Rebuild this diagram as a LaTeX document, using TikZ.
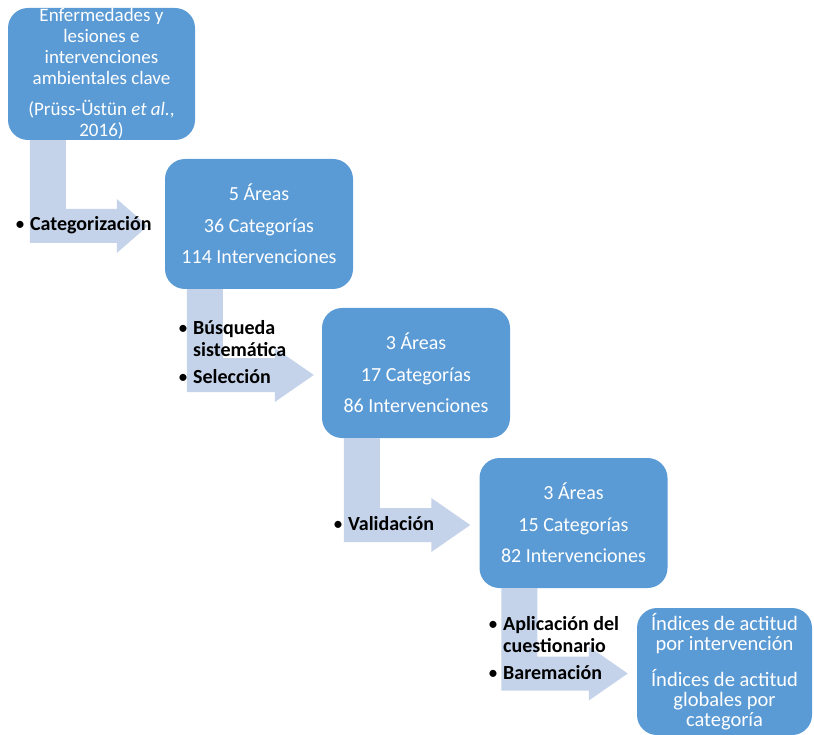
\documentclass[tikz,border=0pt]{standalone}
\usepackage{fontspec}
\setmainfont{Carlito}
\usetikzlibrary{calc}
\definecolor{boxblue}{HTML}{5B9BD5}
\definecolor{arrowblue}{HTML}{C5D3EA}
\tikzset{
  stage/.style={fill=boxblue, rounded corners=20pt, text=white, align=center,
    inner sep=0pt, minimum width=188pt, minimum height=130pt,
    font=\fontsize{20}{31.5}\selectfont},
  bullets/.style={anchor=west, align=left, inner sep=0pt,
    font=\fontsize{20}{22}\selectfont\bfseries},
  flow/.style={fill=arrowblue}
}
\newcommand{\pt}{\textmd{\textbullet}\hspace{5pt}}
% bent block arrow: source, target, gap before target, head length
\newcommand{\flowarrow}[4]{%
  \fill[flow] let \p1=(#1.south west), \p2=(#2.west) in
    (\x1+22pt,\y1) -- (\x1+58pt,\y1) -- (\x1+58pt,\y2+15pt)
    -- (\x2-#3pt-#4pt,\y2+15pt) -- (\x2-#3pt-#4pt,\y2+25pt) -- (\x2-#3pt,\y2-2pt)
    -- (\x2-#3pt-#4pt,\y2-29pt) -- (\x2-#3pt-#4pt,\y2-19pt)
    -- (\x1+22pt,\y2-19pt) -- cycle;}
\begin{document}
\begin{tikzpicture}[x=1pt,y=-1pt]
  \useasboundingbox (0,0) rectangle (814,735);
  \node[stage, minimum width=187pt, minimum height=132pt,
    font=\fontsize{19}{21}\selectfont] (0) at (101.5,74)
    {Enfermedades y\\lesiones e\\intervenciones\\ambientales clave\\[10pt](Prüss-Üstün \textit{et al.},\\2016)};
  \node[stage] (1) at (259,224) {5 Áreas\\36 Categorías\\114 Intervenciones};
  \node[stage] (2) at (416,373) {3 Áreas\\17 Categorías\\86 Intervenciones};
  \node[stage] (3) at (573.5,523) {3 Áreas\\15 Categorías\\82 Intervenciones};
  \node[stage, minimum width=175pt, minimum height=127pt,
    font=\fontsize{20.5}{20}\selectfont] (4) at (724.5,671.5)
    {Índices de actitud\\por intervención\\[14pt]Índices de actitud\\globales por\\categoría};
  \flowarrow{0}{1}{17}{31}
  \flowarrow{1}{2}{8}{39}
  \flowarrow{2}{3}{9}{39}
  \flowarrow{3}{4}{9}{39}
  \node[bullets] (t1) at (15,225) {\pt Categorización};
  \node[bullets] (t2) at (178,352)
    {\pt Búsqueda\\\phantom{\pt}sistemática\\[5pt]\pt Selección};
  \node[bullets] (t3) at (333,524) {\pt Validación};
  \node[bullets] (t4) at (488,648)
    {\pt Aplicación del\\\phantom{\pt}cuestionario\\[5pt]\pt Baremación};
\end{tikzpicture}
\end{document}
